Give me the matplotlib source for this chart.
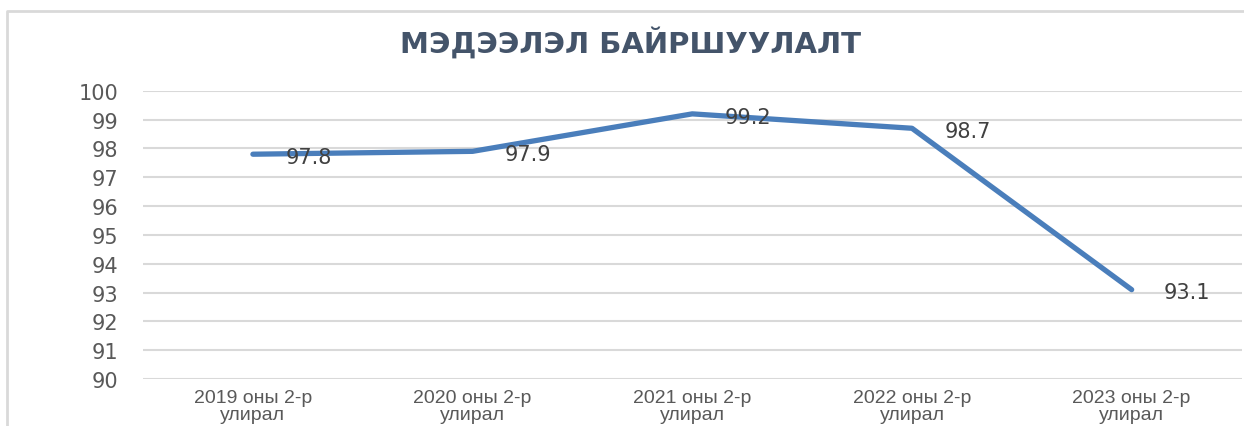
import matplotlib.pyplot as plt
from matplotlib.lines import Line2D

# chart data
categories = ['2019 оны 2-р\nулирал', '2020 оны 2-р\nулирал', '2021 оны 2-р\nулирал',
              '2022 оны 2-р\nулирал', '2023 оны 2-р\nулирал']
values = [97.8, 97.9, 99.2, 98.7, 93.1]
yticks = list(range(90, 101))
title = 'МЭДЭЭЛЭЛ БАЙРШУУЛАЛТ'

plt.rcParams['font.family'] = ['DejaVu Sans']

fig = plt.figure(figsize=(12.44, 4.27), dpi=100)
ax = fig.add_axes([0.115, 0.11, 0.883, 0.675])

# outer chart border (only left and top edges are inside the picture)
bx, by = 7 / 1244, 1 - 12 / 427
fig.add_artist(Line2D([bx, bx, 1.0], [0.0, by, by], transform=fig.transFigure,
                      color='#D9D9D9', lw=2))

x = list(range(len(values)))
ax.plot(x, values, color='#4A7EBB', lw=3.8, solid_capstyle='round', solid_joinstyle='round', zorder=3)

for xi, v in zip(x, values):
    ax.annotate(f'{v:.1f}', (xi, v), xytext=(40, -2), textcoords='offset points',
                ha='center', va='center', fontsize=15, color='#404040', zorder=4)

ax.set_xlim(-0.5, len(values) - 0.5)
ax.set_ylim(90, 100)
ax.set_yticks(yticks)
ax.set_xticks(x)
ax.set_xticklabels(categories, fontsize=14, color='#595959', family='Liberation Sans', linespacing=1.02)
ax.tick_params(axis='y', length=0, pad=18, labelsize=15, labelcolor='#595959')
ax.tick_params(axis='x', length=0, pad=7)
ax.grid(axis='y', color='#D9D9D9', lw=1.5)
ax.set_axisbelow(True)
for s in ax.spines.values():
    s.set_visible(False)

fig.text(0.507, 0.90, title, ha='center', va='center', fontsize=21, fontweight='bold', color='#44546A')

fig.savefig('out.png', dpi=100)
